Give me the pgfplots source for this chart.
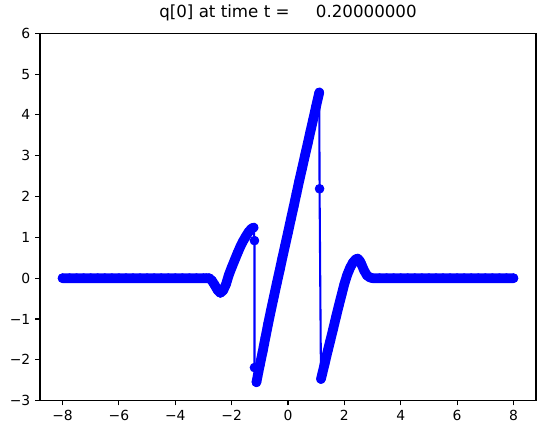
\documentclass[border=0pt]{standalone}
\usepackage{fontspec}
\setmainfont{DejaVu Sans}
\usepackage{pgfplots}
\usepackage{pgfplotstable}
\pgfplotsset{compat=1.18}
\pgfplotstableread{
x y b
-8.00 0 0
-7.75 0 0
-7.50 0 0
-7.25 0 0
-7.00 0 0
-6.75 0 0
-6.50 0 0
-6.25 0 0
-6.00 0 0
-5.75 0 0
-5.50 0 0
-5.25 0 0
-5.00 0 0
-4.75 0 0
-4.50 0 0
-4.25 0 0
-4.00 0 0
-3.75 0 0
-3.50 0 0
-3.25 0 0
-3.00 0 0
-2.90 0 0
-2.80 0 0
-2.70 -0.06 -0.06
-2.60 -0.17 -0.17
-2.50 -0.29 -0.29
-2.40 -0.36 -0.36
-2.30 -0.30 -0.30
-2.20 -0.15 -0.15
-2.10 0.08 0.08
-2.00 0.26 0.26
-1.90 0.43 0.43
-1.80 0.60 0.60
-1.70 0.76 0.76
-1.60 0.90 0.90
-1.50 1.02 1.02
-1.40 1.13 1.13
-1.30 1.21 1.21
-1.22 1.24 1.24
-1.19 0.92 nan
-1.19 -2.19 nan
-1.12 -2.55 -2.55
-1.05 -2.30 -2.30
-1.00 -2.13 -2.13
-0.90 -1.80 -1.80
-0.80 -1.45 -1.45
-0.70 -1.10 -1.10
-0.60 -0.77 -0.77
-0.50 -0.45 -0.45
-0.40 -0.13 -0.13
-0.30 0.18 0.18
-0.20 0.50 0.50
-0.10 0.81 0.81
0.00 1.12 1.12
0.10 1.44 1.44
0.20 1.75 1.75
0.30 2.07 2.07
0.40 2.39 2.39
0.50 2.69 2.69
0.60 3.00 3.00
0.70 3.30 3.30
0.80 3.61 3.61
0.90 3.91 3.91
1.00 4.22 4.22
1.11 4.55 4.55
1.12 2.19 nan
1.17 -2.47 -2.47
1.30 -2.10 -2.10
1.41 -1.78 -1.78
1.50 -1.53 -1.53
1.60 -1.25 -1.25
1.70 -0.96 -0.96
1.80 -0.68 -0.68
1.90 -0.41 -0.41
2.00 -0.14 -0.14
2.10 0.08 0.08
2.20 0.25 0.25
2.30 0.38 0.38
2.40 0.46 0.46
2.47 0.48 0.48
2.55 0.42 0.42
2.60 0.35 0.35
2.70 0.19 0.19
2.80 0.07 0.07
2.90 0.02 0.02
3.00 0 0
3.25 0 0
3.50 0 0
3.75 0 0
4.00 0 0
4.25 0 0
4.50 0 0
4.75 0 0
5.00 0 0
5.25 0 0
5.50 0 0
5.75 0 0
6.00 0 0
6.25 0 0
6.50 0 0
6.75 0 0
7.00 0 0
7.25 0 0
7.50 0 0
7.75 0 0
8.00 0 0
}\qdata
\begin{document}
\begin{tikzpicture}
\begin{axis}[
  name=ax,
  scale only axis,
  width=357.1pt, height=264.5pt,
  xmin=-8.8, xmax=8.8, ymin=-3, ymax=6,
  axis line style={line width=0.8pt},
  tick style={line width=0.8pt, black},
  tick align=outside,
  major tick length=3.5pt,
  xtick={-8,-6,-4,-2,0,2,4,6,8},
  xticklabels={−8,−6,−4,−2,0,2,4,6,8},
  ytick={-3,-2,-1,0,1,2,3,4,5,6},
  yticklabels={−3,−2,−1,0,1,2,3,4,5,6},
  xtick pos=bottom, ytick pos=left,
  ticklabel style={font=\fontsize{10}{12}\selectfont},
  title={q[0] at time t =\hspace{19pt}0.20000000},
  title style={font=\fontsize{12}{14}\selectfont, at={(0.5,1)}, anchor=base, yshift=5.5pt},
]
\addplot[blue, line width=7pt, line cap=round, line join=round, unbounded coords=jump, forget plot] table[x=x,y=b] {\qdata};
\addplot[blue, line width=1.5pt, line join=round, line cap=round, mark=*, mark size=3.2pt, mark options={line width=0.5pt, fill=blue}] table[x=x,y=y] {\qdata};
\end{axis}
\path[use as bounding box] ([shift={(-28.8pt,-25.2pt)}]ax.south west) rectangle ([shift={(7.2pt,23.5pt)}]ax.north east);
\end{tikzpicture}
\end{document}
